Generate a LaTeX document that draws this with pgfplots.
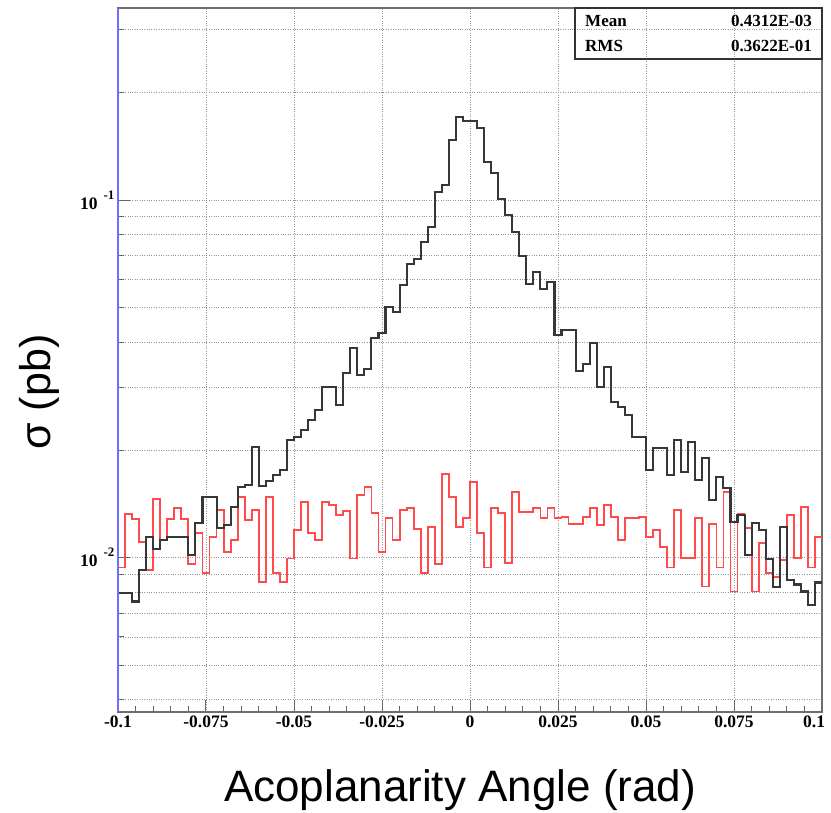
\documentclass[border=0pt]{standalone}
\usepackage{fontspec}
\setmainfont{Liberation Serif}
\newfontfamily\labelfont{Liberation Sans}
\usepackage{pgfplots}
\pgfplotsset{compat=1.18}
\usepackage{pgfplotstable}

\definecolor{histblack}{RGB}{55,55,55}
\definecolor{histred}{RGB}{255,75,75}
\definecolor{axisblue}{RGB}{110,110,255}
\definecolor{framegray}{RGB}{110,110,110}
\definecolor{gridgray}{RGB}{150,150,150}

\pgfplotstableread{
x black red
-0.100 0.00798 0.00938
-0.098 0.00798 0.01327
-0.096 0.00754 0.01285
-0.094 0.00926 0.01108
-0.092 0.01145 0.00926
-0.090 0.01059 0.01462
-0.088 0.01123 0.01123
-0.086 0.01145 0.01285
-0.084 0.01145 0.01379
-0.082 0.01145 0.01285
-0.080 0.01019 0.00962
-0.078 0.01253 0.01174
-0.076 0.01481 0.00908
-0.074 0.01481 0.01145
-0.072 0.01213 0.01362
-0.070 0.01236 0.01039
-0.068 0.01388 0.01123
-0.066 0.01578 0.01481
-0.064 0.01599 0.01277
-0.062 0.02042 0.01362
-0.060 0.01589 0.00857
-0.058 0.01641 0.01481
-0.056 0.01705 0.00908
-0.054 0.01761 0.00857
-0.052 0.02136 0.00994
-0.050 0.02178 0.01197
-0.048 0.02278 0.01434
-0.046 0.02429 0.01174
-0.044 0.02591 0.01123
-0.042 0.03003 0.01434
-0.040 0.03003 0.01406
-0.038 0.02676 0.01318
-0.036 0.03287 0.01353
-0.034 0.03860 0.00994
-0.032 0.03245 0.01500
-0.030 0.03372 0.01578
-0.028 0.04117 0.01336
-0.026 0.04251 0.01039
-0.024 0.05025 0.01293
-0.022 0.04866 0.01123
-0.020 0.05789 0.01362
-0.018 0.06626 0.01379
-0.016 0.06843 0.01205
-0.014 0.07632 0.00908
-0.012 0.08405 0.01220
-0.010 0.1053 0.00962
-0.008 0.1101 0.01716
-0.006 0.1471 0.01481
-0.004 0.1705 0.01220
-0.002 0.1662 0.01293
0.000 0.1662 0.01631
0.002 0.1589 0.01174
0.004 0.1277 0.00938
0.006 0.1190 0.01379
0.008 0.1006 0.01336
0.010 0.09081 0.00968
0.012 0.08139 0.01529
0.014 0.06975 0.01345
0.016 0.05826 0.01345
0.018 0.06294 0.01379
0.020 0.05642 0.01293
0.022 0.05901 0.01379
0.024 0.04197 0.01293
0.026 0.04334 0.01301
0.028 0.04334 0.01245
0.030 0.03330 0.01245
0.032 0.03483 0.01301
0.034 0.03986 0.01379
0.036 0.03003 0.01236
0.038 0.03416 0.01406
0.040 0.02728 0.01301
0.042 0.02641 0.01123
0.044 0.02508 0.01293
0.046 0.02178 0.01293
0.048 0.02171 0.01301
0.050 0.01761 0.01145
0.052 0.02029 0.01197
0.054 0.02029 0.01073
0.056 0.01705 0.00938
0.058 0.02136 0.01362
0.060 0.01739 0.01000
0.062 0.02109 0.01000
0.064 0.01652 0.01293
0.066 0.01902 0.00830
0.068 0.01452 0.01245
0.070 0.01683 0.00938
0.072 0.01568 0.01529
0.074 0.01260 0.00804
0.076 0.01318 0.01327
0.078 0.01019 0.01213
0.080 0.01253 0.00804
0.082 0.01197 0.01101
0.084 0.00994 0.00908
0.086 0.00830 0.00885
0.088 0.01220 0.00986
0.090 0.00868 0.01318
0.092 0.00841 0.01000
0.094 0.00804 0.01388
0.096 0.00739 0.00938
0.098 0.00852 0.01145
0.100 0.00852 0.01145
}\histdata

\begin{document}
\begin{tikzpicture}
\begin{axis}[
  name=ax,
  at={(0,0)}, anchor=south west,
  scale only axis,
  width=704bp, height=704bp,
  xmin=-0.1, xmax=0.1,
  ymode=log, ymin=0.0037, ymax=0.345,
  xtick={-0.1,-0.075,-0.05,-0.025,0,0.025,0.05,0.075,0.1},
  xticklabels={-0.1,-0.075,-0.05,-0.025,0,0.025,0.05,0.075,\makebox[6bp][r]{0.1}},
  minor x tick num=4,
  ytick={0.01,0.1},
  yticklabels={{10\hspace{6bp}\raisebox{10bp}{\fontsize{13bp}{13bp}\selectfont\bfseries -2}},
               {10\hspace{6bp}\raisebox{10bp}{\fontsize{13bp}{13bp}\selectfont\bfseries -1}}},
  minor ytick={0.004,0.005,0.006,0.007,0.008,0.009,0.02,0.03,0.04,0.05,0.06,0.07,0.08,0.09,0.2,0.3},
  xmajorgrids, ymajorgrids, yminorgrids,
  major grid style={gridgray, dotted, line width=0.9bp},
  minor grid style={gridgray, dotted, line width=0.9bp},
  tick align=inside,
  xtick pos=left, ytick pos=left,
  major tick length=12bp, minor tick length=6bp,
  tick style={black!60, line width=1bp},
  axis line style={framegray, line width=1.6bp},
  ticklabel style={font=\fontsize{17.5bp}{19bp}\selectfont\bfseries},
  xlabel={Acoplanarity Angle (rad)},
  ylabel={σ (pb)},
  xlabel style={font=\labelfont\fontsize{44bp}{48bp}\selectfont, at={(axis description cs:0.486,-0.111)}, anchor=center},
  ylabel style={font=\labelfont\fontsize{43bp}{48bp}\selectfont, at={(axis description cs:-0.111,0.4545)}, anchor=center},
]
\addplot[const plot, histred, line width=1.8bp, mark=none] table[x=x, y=red] {\histdata};
\addplot[const plot, histblack, line width=2.1bp, mark=none] table[x=x, y=black] {\histdata};
\end{axis}
\begin{scope}[shift={(ax.south west)}]
\draw[axisblue, line width=2bp] (0,0) -- (0,704bp);
\draw[black!80, line width=1.2bp] (457bp,653bp) rectangle (704bp,704bp);
\node[anchor=west, font=\fontsize{17bp}{19bp}\selectfont\bfseries, inner sep=0pt] at (467bp,691bp) {Mean};
\node[anchor=east, font=\fontsize{17bp}{19bp}\selectfont\bfseries, inner sep=0pt] at (694bp,691bp) {0.4312E-03};
\node[anchor=west, font=\fontsize{17bp}{19bp}\selectfont\bfseries, inner sep=0pt] at (467bp,666bp) {RMS};
\node[anchor=east, font=\fontsize{17bp}{19bp}\selectfont\bfseries, inner sep=0pt] at (694bp,666bp) {0.3622E-01};
\pgfresetboundingbox
\path[use as bounding box] (-118bp,-101bp) rectangle (713bp,712bp);
\end{scope}
\end{tikzpicture}
\end{document}
